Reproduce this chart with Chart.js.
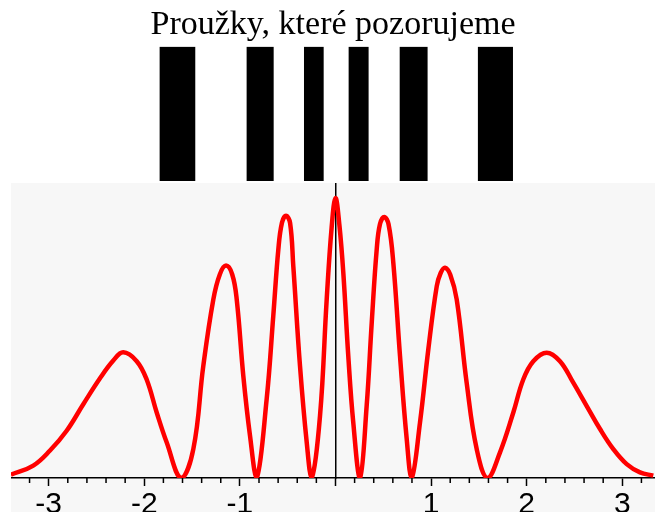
<!DOCTYPE html>
<html>
<head>
<meta charset="utf-8">
<script src="https://cdn.jsdelivr.net/npm/chart.js@4"></script>
<style>
  html, body { margin: 0; padding: 0; background: #fff; overflow: hidden; }
  #wrap { position: relative; width: 655px; height: 512px; overflow: hidden; }
  #stripes { position: absolute; left: 0; top: 0; }
  #plot { position: absolute; left: 11px; top: 183px; background: #f7f7f7; }
</style>
</head>
<body>
<div id="wrap">
  <canvas id="stripes" width="655" height="183"></canvas>
  <canvas id="plot" width="644" height="341"></canvas>
</div>
<script>
// x range of the picture
const xMin = -3.394;
const xMax = 3.342;

// intensity curve
const xs = [-3.395, -3.161, -2.986, -2.812, -2.638, -2.463, -2.324, -2.22, -2.079, -1.975,
  -1.87, -1.766, -1.615, -1.487, -1.383, -1.278, -1.21, -1.145, -1.08, -1.033, -0.964, -0.894,
  -0.824, -0.72, -0.651, -0.598, -0.56, -0.518, -0.475, -0.441, -0.371, -0.301, -0.249, -0.162,
  -0.092, -0.04, 0, 0.04, 0.082, 0.134, 0.186, 0.256, 0.326, 0.379,
  0.431, 0.465, 0.51, 0.555, 0.605, 0.675, 0.745, 0.797, 0.884, 0.971, 1.059, 1.1, 1.145,
  1.2, 1.268, 1.372, 1.477, 1.59, 1.721, 1.86, 1.964, 2.069, 2.209, 2.348,
  2.487, 2.628, 2.767, 2.906, 3.046, 3.185, 3.324];
const intensity = [0.011, 0.042, 0.093, 0.16, 0.25, 0.338, 0.398, 0.426, 0.396, 0.334,
  0.222, 0.121, 0, 0.098, 0.379, 0.605, 0.69, 0.72, 0.69, 0.605, 0.346, 0.143,
  0, 0.267, 0.548, 0.774, 0.865, 0.889, 0.865, 0.717, 0.379, 0.121, 0, 0.21,
  0.605, 0.85, 0.949, 0.86, 0.695, 0.413, 0.188, 0, 0.244, 0.526,
  0.774, 0.86, 0.885, 0.86, 0.729, 0.413, 0.132, 0, 0.188, 0.436, 0.65, 0.695, 0.713,
  0.69, 0.605, 0.323, 0.098, 0, 0.087, 0.222, 0.334, 0.396, 0.425, 0.396,
  0.323, 0.244, 0.166, 0.098, 0.047, 0.019, 0.008];

// dark fringes (start / end on the x axis)
const stripeStart = [-1.836, -0.926, -0.326, 0.141, 0.675, 1.493];
const stripeEnd = [-1.470, -0.650, -0.127, 0.343, 0.960, 1.853];

const majorTicks = [-3, -2, -1, 0, 1, 2, 3];
const minorTicks = [];
for (let i = -16; i <= 16; i++) {
    if (i % 5 !== 0) minorTicks.push(i / 5);
}

const titleText = 'Proužky, které pozorujeme';

// top: title and stripes
new Chart(document.getElementById('stripes'), {
    type: 'bar',
    data: {
        labels: [''],
        datasets: stripeStart.map((s, i) => ({
            data: [[s, stripeEnd[i]]],
            backgroundColor: '#000',
            borderWidth: 0,
            grouped: false,
            barPercentage: 1,
            categoryPercentage: 1,
        })),
    },
    options: {
        indexAxis: 'y',
        responsive: false,
        animation: false,
        layout: { padding: { left: 11, right: 0, top: 0, bottom: 2 } },
        scales: {
            x: { type: 'linear', min: xMin, max: xMax, display: false },
            y: { display: false },
        },
        plugins: {
            legend: { display: false },
            tooltip: { enabled: false },
            title: {
                display: true,
                text: titleText,
                color: '#000',
                font: { family: 'Liberation Serif', size: 34, weight: 'normal', lineHeight: 1.2 },
                padding: { top: 5, bottom: 1 },
            },
        },
    },
});

// minor tick marks on the x axis
const minorTickPlugin = {
    id: 'minorTicks',
    afterDraw(chart) {
        const s = chart.scales.x;
        const ctx = chart.ctx;
        ctx.save();
        ctx.strokeStyle = '#000';
        ctx.lineWidth = 1.5;
        ctx.beginPath();
        minorTicks.forEach((v) => {
            const px = s.getPixelForValue(v);
            ctx.moveTo(px, s.top);
            ctx.lineTo(px, s.top + 5);
        });
        ctx.stroke();
        ctx.restore();
    },
};

// bottom: intensity curve
new Chart(document.getElementById('plot'), {
    type: 'line',
    data: {
        datasets: [{
            data: xs.map((x, i) => ({ x: x, y: intensity[i] })),
            borderColor: '#ff0000',
            borderWidth: 4.5,
            pointRadius: 0,
            fill: false,
            tension: 0.4,
        }],
    },
    options: {
        responsive: false,
        animation: false,
        layout: { padding: 0 },
        scales: {
            x: {
                type: 'linear',
                min: xMin,
                max: xMax,
                position: 'bottom',
                afterBuildTicks: (axis) => { axis.ticks = majorTicks.map((v) => ({ value: v })); },
                border: { color: '#000', width: 1.5 },
                grid: { drawOnChartArea: false, drawTicks: true, tickLength: 8, tickColor: '#000', tickWidth: 1.5 },
                ticks: {
                    autoSkip: false,
                    maxRotation: 0,
                    padding: 1,
                    color: '#000',
                    font: { family: 'Liberation Sans', size: 30 },
                    callback: (v) => (v === 0 ? '' : String(v)),
                },
            },
            y: {
                type: 'linear',
                min: 0,
                max: 1,
                position: { x: 0 },
                z: 1,
                ticks: { display: false },
                grid: { display: false },
                border: { color: '#000', width: 1.5 },
            },
        },
        plugins: {
            legend: { display: false },
            tooltip: { enabled: false },
        },
    },
    plugins: [minorTickPlugin],
});
</script>
</body>
</html>
